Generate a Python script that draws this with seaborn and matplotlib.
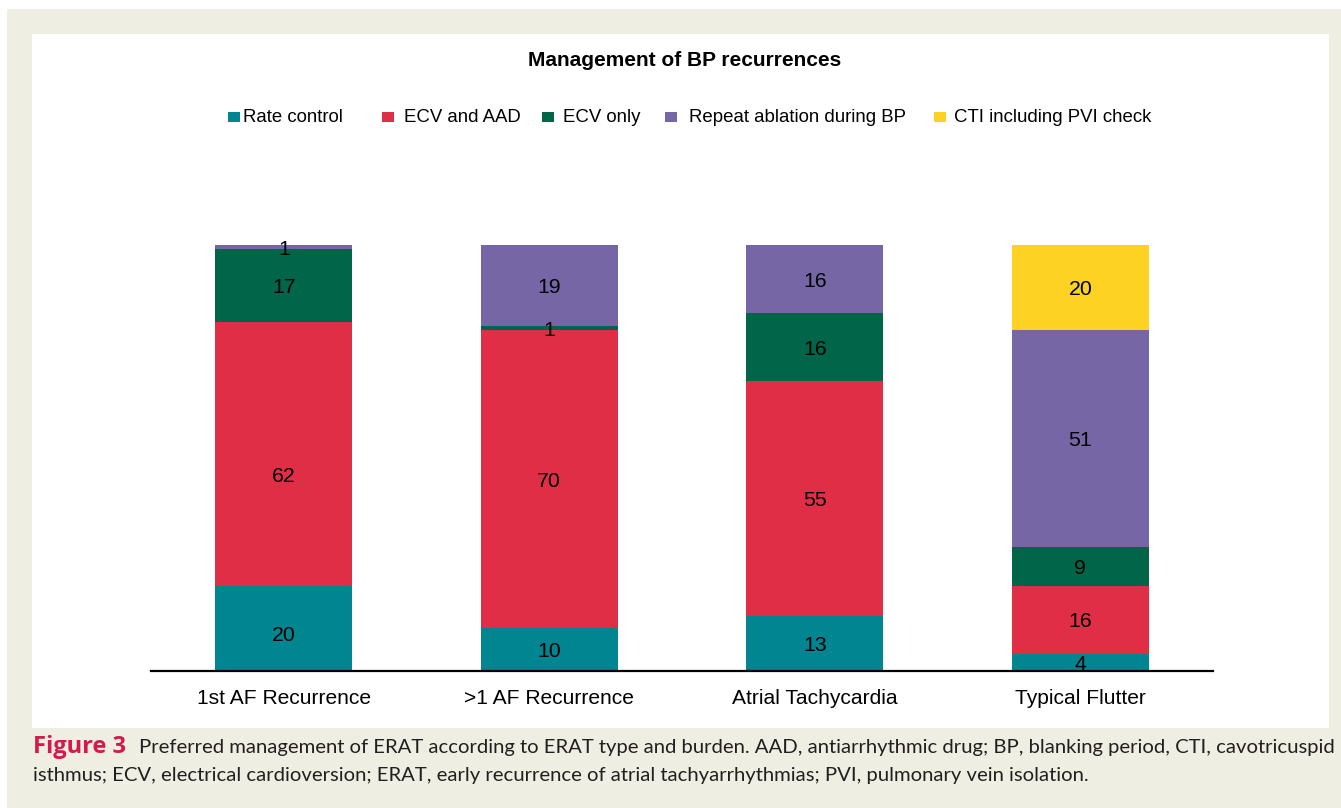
import matplotlib
matplotlib.use("Agg")
import matplotlib.pyplot as plt
import seaborn as sns
import numpy as np
import pandas as pd
from matplotlib.patches import Rectangle

# ---------------- data ----------------
categories = ["1st AF Recurrence", ">1 AF Recurrence", "Atrial Tachycardia", "Typical Flutter"]
series_names = ["Rate control", "ECV and AAD", "ECV only",
                "Repeat ablation during BP", "CTI including PVI check"]
rate_control = [20, 10, 13, 4]
ecv_and_aad = [62, 70, 55, 16]
ecv_only = [17, 1, 16, 9]
repeat_ablation = [1, 19, 16, 51]
cti_pvi_check = [0, 0, 0, 20]
colors = ["#008591", "#E02E46", "#006549", "#7766A6", "#FDD223"]

title = "Management of BP recurrences"
caption_label = "Figure 3"
caption_line1 = ("Preferred management of ERAT according to ERAT type and burden. AAD, "
                 "antiarrhythmic drug; BP, blanking period, CTI, cavotricuspid")
caption_line2 = ("isthmus; ECV, electrical cardioversion; ERAT, early recurrence of atrial "
                 "tachyarrhythmias; PVI, pulmonary vein isolation.")

# ---------------- figure ----------------
W, H = 1341, 808
sns.set_theme(style="white")
plt.rcParams['font.family'] = ['Liberation Sans', 'DejaVu Sans']

fig = plt.figure(figsize=(W / 100, H / 100), dpi=100, facecolor='white')


def fx(px):
    return px / W


def fy(py):
    return 1 - py / H


fig.patches.append(Rectangle((fx(7), 0), 1 - fx(7), fy(9), transform=fig.transFigure,
                             facecolor='#EFEEE2', edgecolor='none', zorder=-10))
fig.patches.append(Rectangle((fx(32), fy(728)), fx(1329) - fx(32), fy(34) - fy(728),
                             transform=fig.transFigure, facecolor='white',
                             edgecolor='none', zorder=-9))

ax = fig.add_axes([fx(151), fy(671), fx(1213) - fx(151), fy(245) - fy(671)])
ax.set_facecolor('none')

values = [rate_control, ecv_and_aad, ecv_only, repeat_ablation, cti_pvi_check]
cum = np.cumsum(np.array(values, dtype=float), axis=0)
for i in range(len(values) - 1, -1, -1):
    df = pd.DataFrame({"cat": categories, "val": cum[i]})
    sns.barplot(data=df, x="cat", y="val", order=categories, color=colors[i],
                saturation=1, width=0.516, errorbar=None, linewidth=0, ax=ax)

# label nudges (in value units) as in the original chart
label_nudge = {(1, 0): -4.9, (0, 0): -1.2}
for i, vals in enumerate(values):
    for j, v in enumerate(vals):
        if v > 0:
            yv = cum[i][j] - v / 2 + label_nudge.get((i, j), 0)
            ax.text(j, yv, str(v), ha='center', va='center_baseline',
                    fontsize=15.3, color='black')

ax.set_xlim(-0.5, 3.5)
ax.set_ylim(0, 100)
ax.set_xlabel("")
ax.set_ylabel("")
ax.set_yticks([])
for s in ['left', 'right', 'top']:
    ax.spines[s].set_visible(False)
ax.spines['bottom'].set_color('black')
ax.spines['bottom'].set_linewidth(1.6)
ax.tick_params(axis='x', length=0, pad=13, labelsize=15.1, labelcolor='black')

# title
fig.text(fx(684.5), fy(61), title, ha='center', va='center', fontsize=15,
         fontweight='bold', color='black')

# legend
sq_x = [228, 382, 542, 665, 934]
tx_x = [243, 404, 563, 689, 954]
for k, name in enumerate(series_names):
    fig.patches.append(Rectangle((fx(sq_x[k]), fy(122)), fx(12), 10.5 / H,
                                 transform=fig.transFigure, facecolor=colors[k],
                                 edgecolor='none'))
    fig.text(fx(tx_x[k]), fy(117), name, ha='left', va='center', fontsize=13.4,
             color='black')

# caption
t0 = fig.text(fx(33), fy(747), caption_label, ha='left', va='center', fontsize=15,
              fontweight='bold', color='#D4194C', family=['Open Sans', 'DejaVu Sans'])
cap_font = ['Lato', 'DejaVu Sans']
t1 = fig.text(fx(139), fy(747), caption_line1, ha='left', va='center', fontsize=13,
              color='#231F20', family=cap_font)
t2 = fig.text(fx(33), fy(775), caption_line2, ha='left', va='center', fontsize=13,
              color='#231F20', family=cap_font)
fig.canvas.draw()
r = fig.canvas.get_renderer()
bb0 = t0.get_window_extent(r)
t0.set_fontsize(15 * (126 - 33) / bb0.width)
bb = t1.get_window_extent(r)
scale = (1331 - 139) / bb.width
t1.set_fontsize(13 * scale)
t2.set_fontsize(13 * scale)

fig.savefig("out.png", dpi=100, facecolor=fig.get_facecolor())
